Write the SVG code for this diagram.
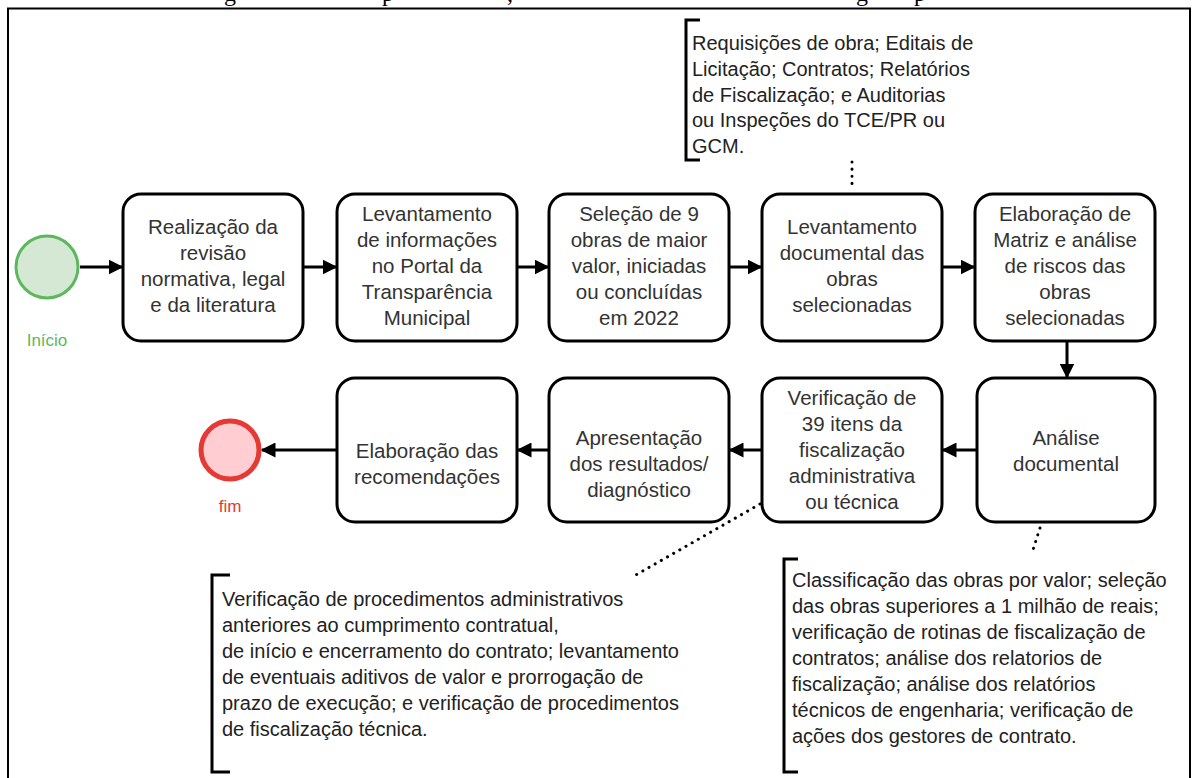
<svg xmlns="http://www.w3.org/2000/svg" width="1198" height="778" viewBox="0 0 1198 778">
<defs>
<style>
.box{fill:#ffffff;stroke:#000000;stroke-width:3}
.t{font-family:"Liberation Sans",Arial,sans-serif;font-size:20.5px;fill:#333333;text-anchor:middle}
.a{font-family:"Liberation Sans",Arial,sans-serif;font-size:20px;fill:#222222}
.edge{stroke:#000000;stroke-width:3;fill:none}
.dot{stroke:#000000;stroke-width:3;fill:none;stroke-dasharray:0.1 7;stroke-linecap:round}
.br{stroke:#000000;stroke-width:3;fill:none}
.frame{stroke:#000000;stroke-width:2;fill:none}
.title{font-family:"Liberation Serif","Times New Roman",serif;font-size:24px;fill:#000000}
</style>
<marker id="arr" viewBox="0 0 10 10" refX="9" refY="5" markerWidth="15" markerHeight="15" markerUnits="userSpaceOnUse" orient="auto">
<path d="M0,0 L10,5 L0,10 z" fill="#000000"/>
</marker>
</defs>
<rect width="1198" height="778" fill="#ffffff"/>
<g id="title-fragments">
<text class="title" x="224" y="1">g</text>
<text class="title" x="382" y="1">p</text>
<text class="title" x="507" y="1">,</text>
<text class="title" x="856" y="1">g</text>
<text class="title" x="914" y="1">p</text>
</g>
<path class="frame" d="M8,778 V8.5 H1190 V778"/>
<g id="connectors">
<line class="edge" x1="80" y1="267" x2="122" y2="267" marker-end="url(#arr)"/>
<line class="edge" x1="303" y1="267" x2="336" y2="267" marker-end="url(#arr)"/>
<line class="edge" x1="517" y1="267" x2="548" y2="267" marker-end="url(#arr)"/>
<line class="edge" x1="729" y1="267" x2="761" y2="267" marker-end="url(#arr)"/>
<line class="edge" x1="942" y1="267" x2="974" y2="267" marker-end="url(#arr)"/>
<line class="edge" x1="1067" y1="342" x2="1067" y2="377" marker-end="url(#arr)"/>
<line class="edge" x1="977" y1="450" x2="943" y2="450" marker-end="url(#arr)"/>
<line class="edge" x1="762" y1="450" x2="730" y2="450" marker-end="url(#arr)"/>
<line class="edge" x1="549" y1="450" x2="518" y2="450" marker-end="url(#arr)"/>
<line class="edge" x1="337" y1="450" x2="262" y2="450" marker-end="url(#arr)"/>
<line class="dot" x1="852" y1="162" x2="852" y2="190"/>
<line class="dot" x1="760" y1="504" x2="634" y2="576"/>
<line class="dot" x1="1040" y1="528" x2="1032" y2="553"/>
</g>
<g id="start">
<circle cx="47" cy="267" r="31" fill="#d5e8d4" stroke="#5cb85c" stroke-width="3"/>
<text x="47" y="346" style="font-family:'Liberation Sans',Arial,sans-serif;font-size:17px;fill:#5cb85c;text-anchor:middle">Início</text>
</g>
<g id="end">
<circle cx="230" cy="450" r="29" fill="#ffcdd2" stroke="#e53935" stroke-width="5"/>
<text x="230" y="512" style="font-family:'Liberation Sans',Arial,sans-serif;font-size:17px;fill:#e53935;text-anchor:middle">fim</text>
</g>
<g id="n1">
<rect class="box" x="123" y="194" width="180" height="147" rx="18"/>
<text class="t" x="213" y="234">Realização da</text>
<text class="t" x="213" y="260">revisão</text>
<text class="t" x="213" y="286">normativa, legal</text>
<text class="t" x="213" y="312">e da literatura</text>
</g>
<g id="n2">
<rect class="box" x="337" y="194" width="180" height="147" rx="18"/>
<text class="t" x="427" y="221">Levantamento</text>
<text class="t" x="427" y="247">de informações</text>
<text class="t" x="427" y="273">no Portal da</text>
<text class="t" x="427" y="299">Transparência</text>
<text class="t" x="427" y="325">Municipal</text>
</g>
<g id="n3">
<rect class="box" x="549" y="194" width="180" height="147" rx="18"/>
<text class="t" x="639" y="221">Seleção de 9</text>
<text class="t" x="639" y="247">obras de maior</text>
<text class="t" x="639" y="273">valor, iniciadas</text>
<text class="t" x="639" y="299">ou concluídas</text>
<text class="t" x="639" y="325">em 2022</text>
</g>
<g id="n4">
<rect class="box" x="762" y="194" width="180" height="147" rx="18"/>
<text class="t" x="852" y="234">Levantamento</text>
<text class="t" x="852" y="260">documental das</text>
<text class="t" x="852" y="286">obras</text>
<text class="t" x="852" y="312">selecionadas</text>
</g>
<g id="n5">
<rect class="box" x="975" y="194" width="180" height="147" rx="18"/>
<text class="t" x="1065" y="221">Elaboração de</text>
<text class="t" x="1065" y="247">Matriz e análise</text>
<text class="t" x="1065" y="273">de riscos das</text>
<text class="t" x="1065" y="299">obras</text>
<text class="t" x="1065" y="325">selecionadas</text>
</g>
<g id="n6">
<rect class="box" x="977" y="378" width="178" height="144" rx="18"/>
<text class="t" x="1066" y="445">Análise</text>
<text class="t" x="1066" y="471">documental</text>
</g>
<g id="n7">
<rect class="box" x="762" y="378" width="180" height="144" rx="18"/>
<text class="t" x="852" y="405">Verificação de</text>
<text class="t" x="852" y="431">39 itens da</text>
<text class="t" x="852" y="457">fiscalização</text>
<text class="t" x="852" y="483">administrativa</text>
<text class="t" x="852" y="509">ou técnica</text>
</g>
<g id="n8">
<rect class="box" x="549" y="378" width="180" height="144" rx="18"/>
<text class="t" x="639" y="445">Apresentação</text>
<text class="t" x="639" y="471">dos resultados/</text>
<text class="t" x="639" y="497">diagnóstico</text>
</g>
<g id="n9">
<rect class="box" x="337" y="378" width="180" height="144" rx="18"/>
<text class="t" x="427" y="458">Elaboração das</text>
<text class="t" x="427" y="484">recomendações</text>
</g>
<g id="ann-top">
<path class="br" d="M700,20 H686 V160 H700"/>
<text class="a" x="692" y="50">Requisições de obra; Editais de</text>
<text class="a" x="692" y="76">Licitação; Contratos; Relatórios</text>
<text class="a" x="692" y="102">de Fiscalização; e Auditorias</text>
<text class="a" x="692" y="127">ou Inspeções do TCE/PR ou</text>
<text class="a" x="692" y="153">GCM.</text>
</g>
<g id="ann-left">
<path class="br" d="M230,575 H212 V772 H230"/>
<text class="a" x="222" y="606">Verificação de procedimentos administrativos</text>
<text class="a" x="222" y="632">anteriores ao cumprimento contratual,</text>
<text class="a" x="222" y="658">de início e encerramento do contrato; levantamento</text>
<text class="a" x="222" y="684">de eventuais aditivos de valor e prorrogação de</text>
<text class="a" x="222" y="710">prazo de execução; e verificação de procedimentos</text>
<text class="a" x="222" y="736">de fiscalização técnica.</text>
</g>
<g id="ann-right">
<path class="br" d="M798,559 H784 V772 H798"/>
<text class="a" x="792" y="587">Classificação das obras por valor; seleção</text>
<text class="a" x="792" y="613">das obras superiores a 1 milhão de reais;</text>
<text class="a" x="792" y="639">verificação de rotinas de fiscalização de</text>
<text class="a" x="792" y="665">contratos; análise dos relatorios de</text>
<text class="a" x="792" y="691">fiscalização; análise dos relatórios</text>
<text class="a" x="792" y="717">técnicos de engenharia; verificação de</text>
<text class="a" x="792" y="743">ações dos gestores de contrato.</text>
</g>
</svg>
